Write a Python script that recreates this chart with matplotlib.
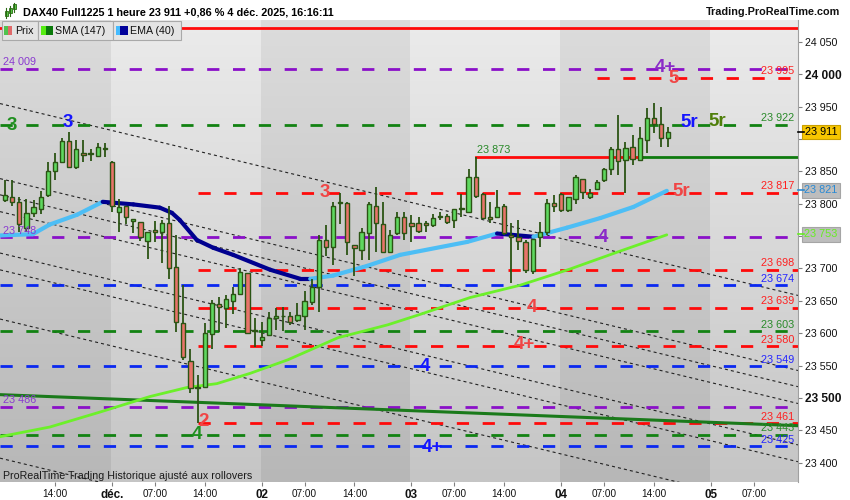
import matplotlib
matplotlib.use('Agg')
import matplotlib.pyplot as plt
import matplotlib.transforms as mtrans
from matplotlib.patches import Rectangle
from matplotlib.collections import LineCollection
from matplotlib.lines import Line2D
import numpy as np

plt.rcParams['font.family'] = ['Liberation Sans', 'DejaVu Sans']
plt.rcParams['lines.scale_dashes'] = False

# ---------------- data (hourly bars, first bar = 28 nov 07:00) ----------------
opens = [23806, 23811, 23803, 23763, 23786, 23792, 23813, 23850, 23865, 23897,
         23857, 23878, 23877, 23874, 23885, 23865, 23788, 23796, 23773, 23772,
         23743, 23759, 23757, 23771, 23702, 23616, 23557, 23515, 23517, 23599,
         23645, 23639, 23650, 23661, 23693, 23603, 23590, 23597, 23623, 23626,
         23627, 23620, 23627, 23648, 23672, 23744, 23733, 23801, 23801, 23737,
         23729, 23755, 23796, 23768, 23726, 23755, 23780, 23770, 23771, 23771,
         23767, 23780, 23781, 23775, 23792, 23787, 23842, 23815, 23780, 23780,
         23796, 23752, 23748, 23741, 23696, 23749, 23757, 23801, 23815, 23791,
         23808, 23838, 23810, 23823, 23837, 23853, 23884, 23868, 23887, 23867,
         23899, 23932, 23923, 23902]
highs = [23837, 23837, 23810, 23807, 23806, 23820, 23864, 23879, 23902, 23911,
         23899, 23899, 23884, 23894, 23894, 23866, 23808, 23797, 23777, 23772,
         23757, 23773, 23775, 23796, 23752, 23675, 23576, 23535, 23616, 23652,
         23656, 23659, 23672, 23700, 23693, 23624, 23618, 23632, 23639, 23641,
         23632, 23647, 23665, 23683, 23752, 23767, 23803, 23816, 23803, 23737,
         23763, 23803, 23826, 23803, 23760, 23788, 23788, 23782, 23779, 23773,
         23784, 23787, 23784, 23792, 23815, 23853, 23873, 23817, 23802, 23822,
         23799, 23770, 23775, 23744, 23746, 23772, 23807, 23813, 23817, 23811,
         23845, 23839, 23823, 23836, 23856, 23887, 23937, 23896, 23906, 23918,
         23948, 23955, 23950, 23918]
lows = [23802, 23796, 23757, 23757, 23780, 23784, 23811, 23837, 23864, 23856,
        23853, 23864, 23866, 23873, 23873, 23787, 23757, 23768, 23755, 23743,
        23715, 23741, 23709, 23684, 23602, 23559, 23508, 23461, 23516, 23576,
        23602, 23608, 23629, 23659, 23600, 23579, 23580, 23595, 23605, 23603,
        23613, 23618, 23605, 23643, 23632, 23719, 23705, 23768, 23721, 23689,
        23713, 23713, 23726, 23724, 23724, 23752, 23744, 23741, 23755, 23757,
        23764, 23775, 23768, 23763, 23780, 23786, 23809, 23776, 23770, 23779,
        23751, 23677, 23728, 23693, 23692, 23733, 23752, 23788, 23788, 23787,
        23799, 23808, 23808, 23822, 23833, 23845, 23845, 23817, 23860, 23866,
        23879, 23910, 23887, 23888]
closes = [23813, 23802, 23768, 23785, 23795, 23811, 23850, 23865, 23897, 23857,
          23885, 23875, 23878, 23887, 23886, 23796, 23795, 23780, 23776, 23749,
          23757, 23756, 23770, 23701, 23617, 23563, 23515, 23517, 23601, 23647,
          23641, 23653, 23661, 23695, 23601, 23605, 23594, 23624, 23627, 23627,
          23618, 23628, 23649, 23672, 23744, 23733, 23797, 23803, 23741, 23731,
          23756, 23800, 23771, 23726, 23751, 23780, 23755, 23765, 23758, 23767,
          23778, 23781, 23772, 23792, 23793, 23842, 23812, 23778, 23776, 23795,
          23755, 23748, 23743, 23698, 23745, 23757, 23801, 23797, 23791, 23811,
          23841, 23818, 23817, 23833, 23853, 23885, 23866, 23886, 23869, 23901,
          23933, 23923, 23902, 23911]

# moving averages (bar index, value)
sma_idx = [-0.7, 6.3, 13.3, 20.3, 25.5, 29.7, 34.4, 39.7, 46.7, 53.7, 58.2,
           65.2, 72.2, 79.2, 86.3, 92.8]
sma_val = [23440, 23455, 23478, 23502, 23516, 23522, 23538, 23559, 23593, 23613,
           23629, 23655, 23674, 23699, 23727, 23752]
ema_idx = [-0.7, 3.9, 6.3, 10.1, 13.7, 18.0, 21.7, 23.4, 24.5, 26.9, 29.2, 32.0,
           37.2, 41.4, 42.8, 46.0, 50.8, 55.4, 64.8, 69.0, 74.1, 78.8, 83.5,
           88.1, 92.8]
ema_val = [23751, 23753, 23768, 23783, 23803, 23799, 23794, 23786, 23775, 23744,
           23732, 23721, 23698, 23684, 23684, 23689, 23704, 23721, 23741, 23754,
           23749, 23763, 23778, 23795, 23820]

# x axis
xtick_pos = [7, 15, 21, 28, 36, 42, 49, 57, 63, 70, 78, 84, 91, 99, 105]
xtick_lbl = ['14:00', 'déc.', '07:00', '14:00', '02', '07:00', '14:00', '03',
             '07:00', '14:00', '04', '07:00', '14:00', '05', '07:00']
day_lbls = {'déc.', '02', '03', '04', '05'}
band_edges = [-0.7, 14.85, 35.85, 56.85, 77.85, 98.85, 111.2]

# y axis ticks (labels hidden behind the price boxes are left blank)
yt = list(range(23400, 24051, 50))
hidden_ticks = [23900, 23750]

# horizontal levels
purple_lv = [24009, 23748, 23486]
green_lv = [23922, 23603, 23443]
blue_lv = [23674, 23549, 23425]
red_lv = [23817, 23698, 23639, 23580, 23461]
red_lv_start = 27
red_top_lv = 23995
red_top_start = 83
red_solid_top = 24072
res_lv = 23873
res_start = 66
res_split = 89.3

# channel lines (value at bar 0, slope per bar)
chan_start = [23953, 23837, 23812, 23786, 23722, 23696, 23620, 23405]
chan_slope = -2.65
trend_pts = ([-0.7, 111.2], [23505, 23457])

# wave labels
wave_txt = ['3', '3', '3', '2', '4', '5r', '5r', '5r', '4', '4', '4+', '4', '4+', '4+', '5']
wave_i = [1.0, 8.8, 44.9, 27.9, 26.9, 95.9, 99.9, 94.9, 83.9, 73.9, 72.9, 58.9, 59.9, 92.6, 93.7]
wave_p = [23921, 23925, 23817, 23463, 23443, 23925, 23927, 23819, 23748, 23639,
          23582, 23549, 23424, 24010, 23993]
wave_col = ['#1f8f1f', '#1515ff', '#f04545', '#f04545', '#1f8f1f', '#1515ff',
            '#4f7f0a', '#f04545', '#8a2bc8', '#f04545', '#f04545', '#1515ff',
            '#1515ff', '#8a2bc8', '#f04545']

last_price = 23911
ema_last = 23821
sma_last = 23753

# ---------------- colours ----------------
C_PURPLE = '#8a10c8'
C_GREEN = '#128212'
C_BLUE = '#0a28f0'
C_RED = '#ff0a0a'
C_WICK = '#2b5414'
C_UP = '#5fd85f'
C_DN = '#e8746a'

W, H = 850, 500
fig = plt.figure(figsize=(W / 100, H / 100), dpi=100)
fig.patch.set_facecolor('white')
ax = fig.add_axes([0, 1 - 482 / H, 798 / W, 462 / H])
XMIN, XMAX = band_edges[0], band_edges[-1]
YMIN, YMAX = 23370, 24084

# background bands with vertical gradient
t = np.linspace(0, 1, 256)[:, None]
def grad(top, bot):
    top = np.array(matplotlib.colors.to_rgb(top))
    bot = np.array(matplotlib.colors.to_rgb(bot))
    return (top[None, None, :] * (1 - t[:, :, None]) + bot[None, None, :] * t[:, :, None])
g_dark = grad('#dcdcdc', '#b7b7b7')
g_light = grad('#ebebeb', '#c5c5c5')
for k in range(len(band_edges) - 1):
    img = g_dark if k % 2 == 0 else g_light
    ax.imshow(img, extent=(band_edges[k], band_edges[k + 1], YMIN, YMAX),
              aspect='auto', origin='upper', zorder=0, interpolation='bilinear')

# channel lines
xs = np.array([XMIN, XMAX])
for c0 in chan_start:
    ax.plot(xs, c0 + chan_slope * xs, color='#222222', lw=0.8,
            ls=(0, (2.2, 2.2)), zorder=1)

DASH = (0, (8.8, 9.8))
for v in purple_lv:
    ax.plot([XMIN, XMAX], [v, v], color=C_PURPLE, lw=2, ls=DASH, zorder=2)
for v in green_lv:
    ax.plot([XMIN, XMAX], [v, v], color=C_GREEN, lw=2, ls=DASH, zorder=2)
for v in blue_lv:
    ax.plot([XMIN, XMAX], [v, v], color=C_BLUE, lw=2, ls=DASH, zorder=2)
for v in red_lv:
    ax.plot([red_lv_start, XMAX], [v, v], color=C_RED, lw=2, ls=DASH, zorder=2)
ax.plot([red_top_start, XMAX], [red_top_lv] * 2, color=C_RED, lw=2, ls=DASH, zorder=2)
ax.plot([XMIN, XMAX], [red_solid_top] * 2, color=C_RED, lw=2, zorder=2)
ax.plot([res_start, res_split], [res_lv] * 2, color=C_RED, lw=2, zorder=2)
ax.plot([res_split, XMAX], [res_lv] * 2, color='#0e7a0e', lw=2, zorder=2)

# trend line and SMA
ax.plot(trend_pts[0], trend_pts[1], color='#1b7a1b', lw=2.2, zorder=3)
ax.plot(sma_idx, sma_val, color='#6cf02a', lw=2, zorder=3, solid_capstyle='round')

# EMA two-tone
segs, cols = [], []
for k in range(len(ema_idx) - 1):
    segs.append([(ema_idx[k], ema_val[k]), (ema_idx[k + 1], ema_val[k + 1])])
    cols.append('#4dbef5' if ema_val[k + 1] > ema_val[k] else '#00008f')
ax.add_collection(LineCollection(segs, colors=cols, linewidths=3, zorder=3,
                                 capstyle='round'))

# candles
for i, (o, h, l, c) in enumerate(zip(opens, highs, lows, closes)):
    ax.plot([i, i], [l, h], color=C_WICK, lw=1.3, zorder=4, solid_capstyle='butt')
    lo, hi = min(o, c), max(o, c)
    ax.add_patch(Rectangle((i - 0.3, lo), 0.6, max(hi - lo, 1.2),
                           fc=C_UP if c >= o else C_DN, ec=C_WICK, lw=1.0, zorder=5))

# wave labels
for s, xi, p, col in zip(wave_txt, wave_i, wave_p, wave_col):
    ax.text(xi, p, s, color=col, fontsize=13.5, fontweight='bold',
            ha='center', va='center', zorder=7)

# value labels on the right
def fmt(v):
    return f"{v:,}".replace(',', ' ')
right_lbls = ([(v, '#ff2020') for v in red_lv] + [(red_top_lv, '#ff2020')] +
              [(v, '#2a8a2a') for v in green_lv] + [(v, '#2525ff') for v in blue_lv])
for v, col in right_lbls:
    ax.annotate(fmt(v), xy=(XMAX, v), xytext=(-2.5, 2.6), textcoords='offset points',
                ha='right', va='baseline', fontsize=7.8, color=col, zorder=6)
for v in purple_lv:
    ax.annotate(fmt(v), xy=(XMIN, v), xytext=(2.2, 2.6), textcoords='offset points',
                ha='left', va='baseline', fontsize=7.8, color='#8a3ad0', zorder=6)
ax.annotate(fmt(res_lv), xy=(res_start, res_lv), xytext=(1.2, 2.6),
            textcoords='offset points', ha='left', va='baseline', fontsize=7.8,
            color='#2a8a2a', zorder=6)

# axes formatting
ax.set_xlim(XMIN, XMAX)
ax.set_ylim(YMIN, YMAX)
for sp in ['top', 'left', 'bottom']:
    ax.spines[sp].set_visible(False)
ax.spines['right'].set_color('#a0a0a0')
ax.set_yticks(yt)
ax.set_yticklabels(['' if v in hidden_ticks else fmt(v) for v in yt])
ax.yaxis.tick_right()
ax.tick_params(axis='y', length=3, width=0.8, color='#808080', pad=2,
               labelsize=7.7, labelcolor='#111111')
for lab, v in zip(ax.get_yticklabels(), yt):
    if v % 500 == 0:
        lab.set_fontweight('bold')
        lab.set_fontsize(8.6)
ax.set_xticks(xtick_pos)
ax.set_xticklabels(xtick_lbl)
ax.tick_params(axis='x', length=3, width=0.8, color='#808080', pad=2,
               labelsize=7.2, labelcolor='#111111')
for lab in ax.get_xticklabels():
    if lab.get_text() in day_lbls:
        lab.set_fontweight('bold')
        lab.set_fontsize(8.4)

# price boxes on the axis
bt = mtrans.blended_transform_factory(ax.transAxes, ax.transData)
bx = 821 / 798
def price_box(v, fc, ec, tc, tick_col):
    ax.text(bx, v, fmt(v), transform=bt, ha='center', va='center', fontsize=7.8,
            color=tc, zorder=20, clip_on=False,
            bbox=dict(boxstyle='square,pad=0.22', fc=fc, ec=ec, lw=0.8))
    ax.add_line(Line2D([1.0, 804 / 798], [v, v], transform=bt, color=tick_col,
                       lw=1.2, clip_on=False, zorder=20))
price_box(last_price, '#f7c600', '#c9a000', '#000000', '#000000')
price_box(ema_last, '#bdbdbd', '#a5a5a5', '#2a8ad4', '#2a8ad4')
price_box(sma_last, '#bdbdbd', '#a5a5a5', '#66ee22', '#66ee22')

# header
def fx(px):
    return px / W
def fy(py):
    return 1 - py / H
fig.text(fx(23), fy(12.5), 'DAX40 Full1225 1 heure 23 911 +0,86 % 4 déc. 2025, 16:16:11',
         fontsize=7.8, fontweight='bold', ha='left', va='center', color='#000000')
fig.text(fx(840), fy(12), 'Trading.ProRealTime.com', fontsize=7.8, fontweight='bold',
         ha='right', va='center', color='#111111')
# small icon
for (cx, y0, y1, b0, b1) in [(6, 8, 18, 11, 16), (10, 6, 16, 8, 13), (14, 3, 12, 4, 9)]:
    fig.add_artist(Line2D([fx(cx), fx(cx)], [fy(y1), fy(y0)], transform=fig.transFigure,
                          color='#2b6a14', lw=0.8))
    fig.add_artist(Rectangle((fx(cx - 1.5), fy(b1)), 3 / W, (b1 - b0) / H,
                             transform=fig.transFigure, fc='#55cc44', ec='#2b6a14', lw=0.6))

# legend boxes
def rect(x0, y0, x1, y1, fc, ec='none', lw=0.0):
    fig.add_artist(Rectangle((fx(x0), fy(y1)), (x1 - x0) / W, (y1 - y0) / H,
                             transform=fig.transFigure, fc=fc, ec=ec, lw=lw))
rect(1.5, 21.5, 37.5, 39.5, '#e4e4e4', '#a9a9a9', 0.8)
rect(37.5, 21.5, 112.5, 39.5, '#e4e4e4', '#a9a9a9', 0.8)
rect(112.5, 21.5, 180.5, 39.5, '#e4e4e4', '#a9a9a9', 0.8)
rect(4, 26, 8, 35, '#4fc34f')
rect(8, 26, 12, 35, '#e06a6a')
rect(41, 26, 45.5, 35, '#55ee11')
rect(45.5, 26, 53, 35, '#0b7a0b')
rect(116, 26, 120.5, 35, '#44bbff')
rect(120.5, 26, 128, 35, '#00009a')
fig.text(fx(15), fy(30.8), 'Prix', fontsize=7.7, ha='left', va='center', color='#111111')
fig.text(fx(55), fy(30.8), 'SMA (147)', fontsize=7.7, ha='left', va='center', color='#111111')
fig.text(fx(129.5), fy(30.8), 'EMA (40)', fontsize=7.7, ha='left', va='center', color='#111111')

# footer note
fig.text(fx(3), fy(476), 'ProRealTime Trading Historique ajusté aux rollovers',
         fontsize=7.7, ha='left', va='center', color='#1a1a1a')

fig.savefig('out.png', dpi=100, facecolor='white')
